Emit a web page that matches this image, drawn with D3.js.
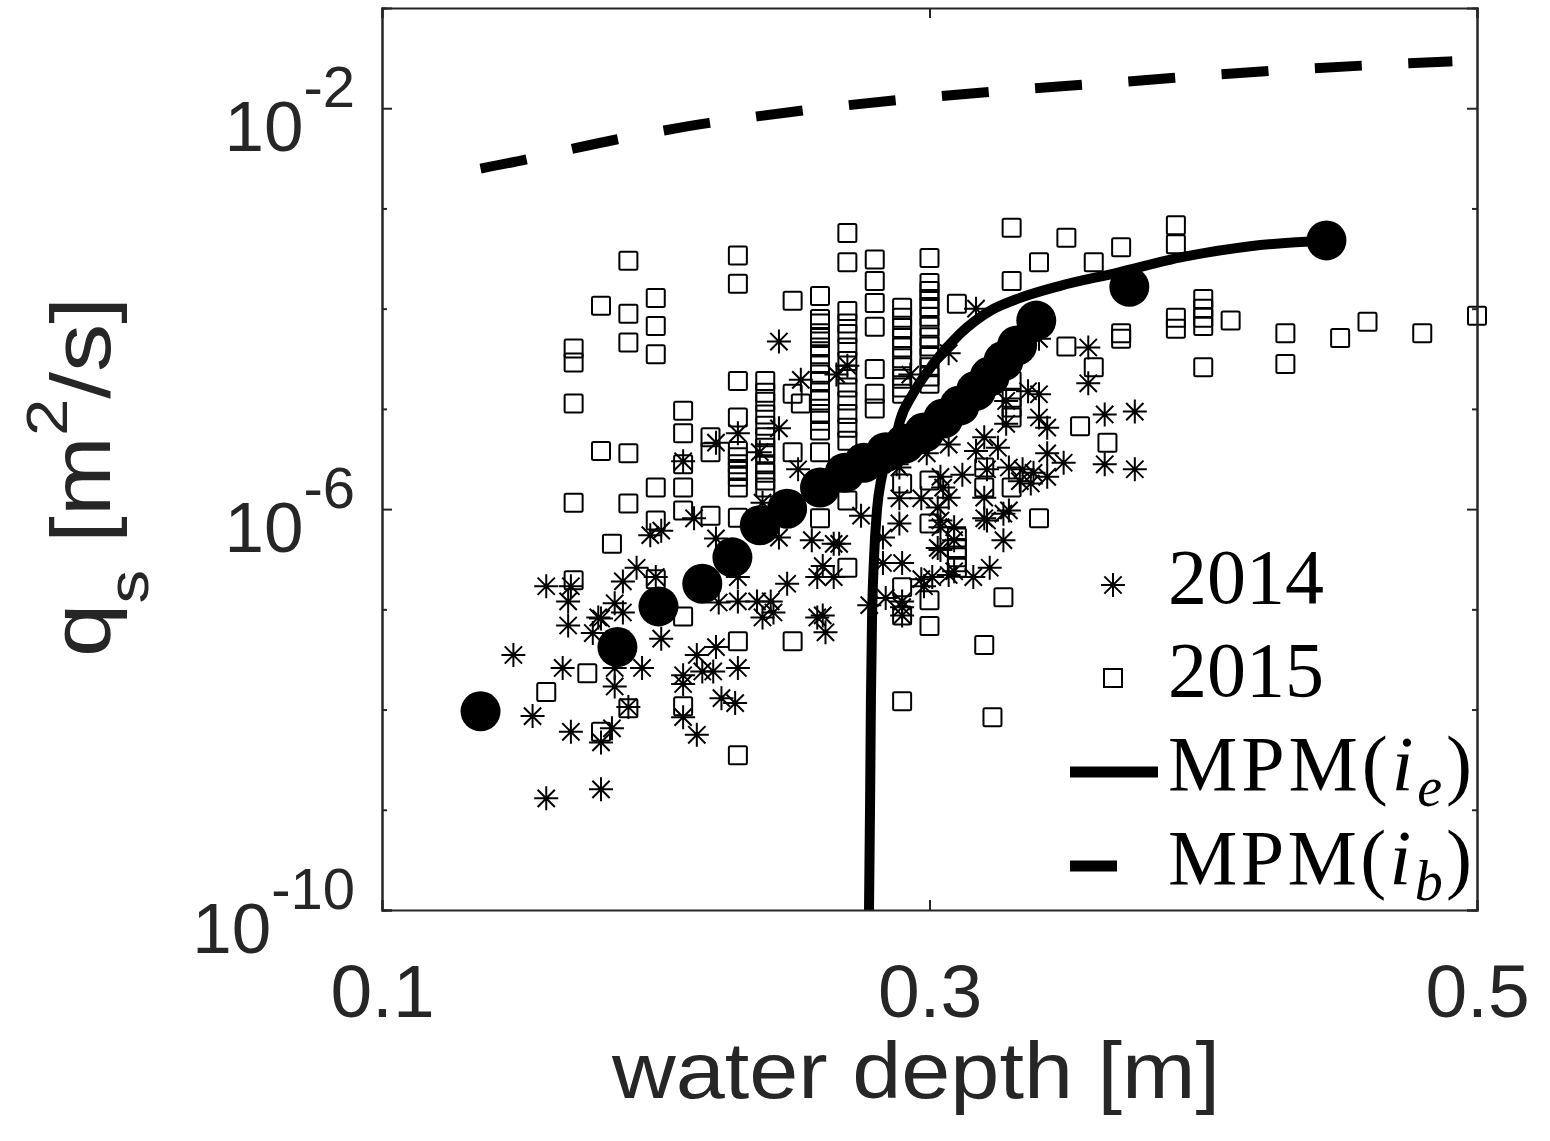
<!DOCTYPE html>
<html>
<head>
<meta charset="utf-8">
<script src="https://cdn.jsdelivr.net/npm/d3@7"></script>
<style>
  body { margin: 0; background: #fff; }
</style>
</head>
<body>
<div id="chart"></div>
<script>
// 2015 campaign: one entry per water depth, with all sediment fluxes read at that depth
const depth2015 = [0.16, 0.17, 0.175, 0.18, 0.184, 0.19, 0.20, 0.21, 0.22, 0.23, 0.24, 0.25, 0.253,
  0.26, 0.27, 0.28, 0.29, 0.30, 0.31, 0.32, 0.323, 0.327, 0.33, 0.34, 0.35, 0.355, 0.36, 0.365,
  0.37, 0.39, 0.40, 0.41, 0.43, 0.45, 0.46, 0.48, 0.50];
const qs2015 = [
  [1.5e-8],
  [4.0e-5, 2.9e-5, 1.13e-5, 1.16e-6, 1.95e-7],
  [2.3e-8],
  [1.07e-4, 3.8e-6, 6.0e-9],
  [4.5e-7],
  [3.0e-4, 8.9e-5, 4.6e-5, 3.6e-6, 1.14e-6, 1.03e-8],
  [1.28e-4, 6.7e-5, 3.5e-5, 1.64e-6, 7.7e-7, 2.0e-7],
  [9.6e-6, 5.7e-6, 2.8e-6, 1.64e-6, 9.7e-7, 8.5e-8, 1.08e-8],
  [5.2e-6, 3.7e-6, 8.6e-7],
  [3.4e-4, 1.77e-4, 1.9e-5, 8.2e-6, 3.8e-6, 3.3e-6, 2.8e-6, 2.4e-6, 2.1e-6, 1.64e-6, 8.2e-7, 4.8e-8, 3.5e-9],
  [1.9e-5, 1.45e-5, 1.18e-5, 8.8e-6, 6.8e-6, 5.2e-6, 4.1e-6, 3.6e-6, 2.8e-6, 2.3e-6, 1.93e-6, 1.64e-6],
  [1.2e-4, 1.42e-5, 3.7e-6, 4.8e-8],
  [1.13e-5],
  [1.34e-4, 7.9e-5, 7.1e-5, 5.7e-5, 5.1e-5, 4.1e-5, 3.5e-5, 2.8e-5, 2.2e-5, 1.9e-5, 1.52e-5, 1.21e-5, 8.9e-6, 7.6e-6, 6.1e-6, 3.7e-6, 8.1e-7],
  [5.7e-4, 2.9e-4, 9.5e-5, 7.1e-5, 5.6e-5, 4.1e-5, 3.0e-5, 2.2e-5, 1.63e-5, 1.21e-5, 8.9e-6, 6.5e-6, 4.8e-6, 1.22e-6, 2.6e-7],
  [3.1e-4, 1.89e-4, 1.14e-4, 6.6e-5, 2.5e-5, 1.42e-5, 1.01e-5],
  [1.02e-4, 8.1e-5, 6.4e-5, 5.1e-5, 4.1e-5, 3.2e-5, 2.6e-5, 2.0e-5, 1.63e-5, 1.42e-5, 1.8e-6, 1.66e-7, 8.7e-8, 1.21e-8],
  [3.2e-4, 1.8e-4, 1.5e-4, 1.25e-4, 1.04e-4, 8.3e-5, 6.6e-5, 5.2e-5, 4.2e-5, 3.3e-5, 2.6e-5, 2.1e-5, 1.78e-5, 1.93e-6, 7.2e-7, 1.23e-7, 6.8e-8],
  [1.12e-4, 5.2e-7, 4.1e-7, 3.3e-7, 2.6e-7],
  [2.6e-6, 1.64e-6, 4.4e-8],
  [8.4e-9],
  [1.32e-7],
  [6.4e-4, 1.89e-4, 1.9e-5, 1.29e-5, 1.03e-5, 8.2e-6, 1.64e-6],
  [2.9e-4, 8.1e-7],
  [5.1e-4, 4.2e-5],
  [6.7e-6],
  [2.9e-4, 2.6e-5],
  [4.6e-6],
  [4.1e-4, 5.7e-5, 5.0e-5],
  [6.8e-4, 4.4e-4, 8.1e-5, 6.3e-5],
  [1.25e-4, 1.0e-4, 8.1e-5, 6.7e-5, 2.6e-5],
  [7.6e-5],
  [5.7e-5, 2.8e-5],
  [5.1e-5],
  [7.4e-5],
  [5.7e-5],
  [8.5e-5]
];

// 2014 campaign
const depth2014 = [0.148, 0.155, 0.160, 0.160, 0.169, 0.168, 0.168, 0.166, 0.169, 0.180,
  0.180, 0.184, 0.180, 0.177, 0.188, 0.193, 0.200, 0.185, 0.188, 0.202,
  0.195, 0.185, 0.185, 0.190, 0.210, 0.210, 0.210, 0.215, 0.215, 0.222,
  0.217, 0.221, 0.230, 0.224, 0.229, 0.223, 0.230, 0.237, 0.239, 0.243,
  0.248, 0.259, 0.230, 0.259, 0.179, 0.242, 0.261, 0.262, 0.222, 0.230,
  0.238, 0.245, 0.210, 0.252, 0.214, 0.198, 0.202, 0.222, 0.239, 0.245,
  0.257, 0.265, 0.261, 0.265, 0.245, 0.253, 0.270, 0.266, 0.293, 0.307,
  0.317, 0.340, 0.358, 0.358, 0.336, 0.340, 0.340, 0.343, 0.343, 0.349,
  0.364, 0.375, 0.364, 0.375, 0.299, 0.289, 0.275, 0.329, 0.327, 0.333,
  0.338, 0.328, 0.328, 0.320, 0.325, 0.317, 0.307, 0.329, 0.334, 0.337,
  0.343, 0.321, 0.312, 0.304, 0.289, 0.305, 0.307, 0.320, 0.297, 0.289,
  0.303, 0.304, 0.309, 0.321, 0.327, 0.309, 0.303, 0.283, 0.290, 0.322,
  0.316, 0.309, 0.301, 0.297, 0.298, 0.284, 0.290, 0.288, 0.283, 0.267,
  0.278, 0.290, 0.290, 0.307, 0.320, 0.304, 0.304];
const qs2014 = [3.5e-8, 8.6e-9, 1.7e-7, 1.3e-9, 1.7e-7, 1.2e-7, 6.9e-8, 2.6e-8, 6.0e-9, 4.7e-9,
  1.6e-9, 6.5e-9, 8.1e-8, 5.8e-8, 1.9e-7, 2.6e-7, 2.1e-7, 1.15e-7, 9.3e-8, 5.1e-8,
  2.6e-8, 2.6e-8, 1.7e-8, 1.06e-8, 2.2e-8, 1.8e-8, 8.4e-9, 5.6e-9, 3.5e-8, 4.2e-8,
  2.4e-8, 2.4e-8, 2.6e-8, 1.3e-8, 1.16e-8, 1.17e-7, 1.2e-7, 1.2e-7, 8.3e-8, 9.3e-8,
  1.8e-7, 2.1e-7, 2.1e-7, 8.3e-8, 8.3e-8, 1.2e-7, 8.7e-8, 5.9e-8, 4.6e-6, 5.7e-6,
  3.7e-6, 6.4e-6, 3.0e-6, 2.5e-6, 8.1e-7, 5.5e-7, 6.1e-7, 5.1e-7, 1.16e-6, 5.2e-7,
  4.9e-7, 4.5e-7, 2.7e-7, 2.1e-7, 4.7e-5, 1.95e-5, 2.7e-5, 2.2e-5, 2.2e-5, 3.6e-5,
  1.0e-4, 5.0e-5, 4.1e-5, 1.8e-5, 1.5e-5, 1.4e-5, 8.2e-6, 6.5e-6, 3.6e-6, 2.9e-6,
  8.8e-6, 9.4e-6, 2.8e-6, 2.5e-6, 3.6e-6, 1.28e-6, 8.6e-7, 9.7e-7, 4.9e-7, 1.9e-6,
  2.3e-6, 1.2e-5, 7.1e-6, 5.2e-6, 4.1e-6, 3.8e-6, 4.4e-6, 2.6e-6, 2.5e-6, 1.8e-6,
  2.1e-6, 2.5e-6, 2.2e-6, 2.1e-6, 2.6e-6, 1.64e-6, 1.3e-6, 1.3e-6, 1.28e-6, 7.2e-7,
  1.04e-6, 7.7e-7, 6.6e-7, 7.7e-7, 9.0e-7, 4.9e-7, 4.1e-7, 2.9e-7, 2.9e-7, 2.6e-7,
  2.1e-7, 2.4e-7, 2.1e-7, 2.0e-7, 1.7e-7, 1.3e-7, 1.2e-7, 2.8e-6, 5.2e-7, 4.5e-7,
  1.1e-7, 1.05e-7, 8.7e-8, 2.2e-7, 8.1e-7, 6.6e-7, 3.9e-7];

// depth-binned mean flux (filled circles)
const binDepth = [0.136, 0.186, 0.201, 0.217, 0.228, 0.238, 0.248, 0.260, 0.269, 0.276, 0.284,
  0.291, 0.298, 0.305, 0.311, 0.317, 0.322, 0.327, 0.332, 0.339, 0.373, 0.445];
const binQs = [9.6e-9, 4.2e-8, 1.07e-7, 1.8e-7, 3.3e-7, 6.9e-7, 1.01e-6, 1.64e-6, 2.3e-6, 2.9e-6, 3.7e-6,
  4.5e-6, 5.8e-6, 8.0e-6, 1.08e-5, 1.52e-5, 2.1e-5, 3.0e-5, 4.3e-5, 7.6e-5, 1.65e-4, 4.8e-4];

// MPM with energy slope (solid) and bed slope (dashed)
const mpmEDepth = [0.2779, 0.2783, 0.2786, 0.2790, 0.2797, 0.2808, 0.2823, 0.2845, 0.2874, 0.2892,
  0.2940, 0.3013, 0.3111, 0.3221, 0.3331, 0.3477, 0.3685, 0.3926, 0.4171, 0.4452];
const mpmEQs = [1e-10, 1.25e-9, 1.24e-8, 7.8e-8, 3.1e-7, 9.7e-7, 1.93e-6, 3.05e-6, 4.8e-6, 7.6e-6,
  1.42e-5, 2.8e-5, 5.6e-5, 9.5e-5, 1.28e-4, 1.69e-4, 2.28e-4, 3.28e-4, 4.2e-4, 4.8e-4];
const mpmBDepth = [0.136, 0.153, 0.169, 0.186, 0.203, 0.219, 0.237, 0.270, 0.304, 0.338, 0.372,
  0.406, 0.440, 0.474, 0.491];
const mpmBQs = [2.5e-3, 3.1e-3, 3.9e-3, 4.9e-3, 6.0e-3, 7.1e-3, 8.3e-3, 1.07e-2, 1.32e-2, 1.58e-2,
  1.84e-2, 2.18e-2, 2.5e-2, 2.8e-2, 2.94e-2];

const xTicks = [0.1, 0.3, 0.5];
const yMajorTicks = [1e-10, 1e-6, 1e-2];
const yMinorTicks = [1e-9, 1e-8, 1e-7, 1e-5, 1e-4, 1e-3];
const legendLabels = ["2014", "2015", "MPM", "MPM"];
const legendSubs = [null, null, "e", "b"];

const width = 1550, height = 1141;
const margin = { top: 8, right: 73, bottom: 231, left: 382 };
const axisColor = "#262626";

const svg = d3.select("#chart").append("svg")
  .attr("width", width)
  .attr("height", height);

const x = d3.scaleLinear()
  .domain([0.1, 0.5])
  .range([margin.left, width - margin.right]);

const y = d3.scaleLog()
  .domain([1e-10, 1e-1])
  .range([height - margin.bottom, margin.top]);

svg.append("clipPath").attr("id", "plot-clip")
  .append("rect")
  .attr("x", margin.left).attr("y", margin.top)
  .attr("width", x(0.5) - x(0.1)).attr("height", y(1e-10) - y(1e-1));

const lines = svg.append("g").attr("clip-path", "url(#plot-clip)");
const marks = svg.append("g");

// MATLAB-style '*' marker: plus plus a shorter x
function starPath(r) {
  const d = r * 0.72;
  return `M${-r},0H${r}M0,${-r}V${r}M${-d},${-d}L${d},${d}M${-d},${d}L${d},${-d}`;
}

const points2014 = depth2014.map((h, i) => ({ h, q: qs2014[i] }));
const points2015 = depth2015.flatMap((h, i) => qs2015[i].map(q => ({ h, q })));

marks.selectAll("path.star")
  .data(points2014)
  .enter().append("path")
  .attr("class", "star")
  .attr("d", starPath(12))
  .attr("transform", d => `translate(${x(d.h)},${y(d.q)})`)
  .attr("fill", "none")
  .attr("stroke", "#000")
  .attr("stroke-width", 2);

marks.selectAll("rect.sq")
  .data(points2015)
  .enter().append("rect")
  .attr("class", "sq")
  .attr("x", d => x(d.h) - 9)
  .attr("y", d => y(d.q) - 9)
  .attr("width", 18).attr("height", 18)
  .attr("rx", 1.5)
  .attr("fill", "none")
  .attr("stroke", "#000")
  .attr("stroke-width", 2);

const line = d3.line().x(d => x(d[0])).y(d => y(d[1])).curve(d3.curveMonotoneX);

lines.append("path")
  .datum(mpmEDepth.map((h, i) => [h, mpmEQs[i]]))
  .attr("d", line)
  .attr("fill", "none")
  .attr("stroke", "#000")
  .attr("stroke-width", 10);

marks.selectAll("circle.bin")
  .data(binDepth.map((h, i) => [h, binQs[i]]))
  .enter().append("circle")
  .attr("class", "bin")
  .attr("cx", d => x(d[0]))
  .attr("cy", d => y(d[1]))
  .attr("r", 20)
  .attr("fill", "#000");

lines.append("path")
  .datum(mpmBDepth.map((h, i) => [h, mpmBQs[i]]))
  .attr("d", line)
  .attr("fill", "none")
  .attr("stroke", "#000")
  .attr("stroke-width", 10)
  .attr("stroke-dasharray", "47,46.5");

// axes box
const tickFont = "'Liberation Sans', Arial, sans-serif";

const xAxis = svg.append("g")
  .attr("transform", `translate(0,${height - margin.bottom})`)
  .call(d3.axisBottom(x).tickValues(xTicks).tickSize(-10).tickFormat(d3.format(".1f")));
xAxis.selectAll("text")
  .attr("font-family", tickFont).attr("font-size", 75).attr("fill", axisColor)
  .attr("y", 107).attr("dy", 0);

svg.append("g")
  .attr("transform", `translate(0,${margin.top})`)
  .call(d3.axisTop(x).tickValues(xTicks).tickSize(-10).tickFormat(""));

// "10" with a raised exponent, like MATLAB's log tick labels
function logLabel(sel) {
  sel.each(function (d) {
    const t = d3.select(this).text(null);
    t.append("tspan").text("10");
    t.append("tspan").attr("dy", -44).attr("font-size", 58)
      .text("-" + Math.abs(Math.round(Math.log10(d))));
  });
}

const yAxis = svg.append("g")
  .attr("transform", `translate(${margin.left},0)`)
  .call(d3.axisLeft(y).tickValues(yMajorTicks).tickSize(-10).tickPadding(27).tickFormat(""));
yAxis.selectAll("text")
  .attr("font-family", tickFont).attr("font-size", 71).attr("fill", axisColor)
  .attr("y", 42).attr("dy", 0)
  .call(logLabel);

svg.append("g")
  .attr("transform", `translate(${margin.left},0)`)
  .call(d3.axisLeft(y).tickValues(yMinorTicks).tickSize(-5).tickFormat(""));

svg.append("g")
  .attr("transform", `translate(${width - margin.right},0)`)
  .call(d3.axisRight(y).tickValues(yMajorTicks).tickSize(-10).tickFormat(""));
svg.append("g")
  .attr("transform", `translate(${width - margin.right},0)`)
  .call(d3.axisRight(y).tickValues(yMinorTicks).tickSize(-5).tickFormat(""));

svg.selectAll(".domain").attr("stroke", axisColor).attr("stroke-width", 2);
svg.selectAll(".tick line").attr("stroke", axisColor).attr("stroke-width", 2);

// axis labels
svg.append("text")
  .attr("x", 612)
  .attr("y", 1098)
  .attr("textLength", 608)
  .attr("lengthAdjust", "spacingAndGlyphs")
  .attr("font-family", tickFont).attr("font-size", 80).attr("fill", axisColor)
  .text("water depth [m]");

const yLabel = svg.append("text")
  .attr("transform", "translate(110,657) rotate(-90)")
  .attr("textLength", 360)
  .attr("lengthAdjust", "spacingAndGlyphs")
  .attr("font-family", tickFont).attr("font-size", 83).attr("fill", axisColor);
yLabel.append("tspan").text("q");
yLabel.append("tspan").attr("font-size", 58).attr("dy", 38).text("s");
yLabel.append("tspan").attr("dy", -38).text(" [m");
yLabel.append("tspan").attr("font-size", 58).attr("dy", -43).text("2");
yLabel.append("tspan").attr("dy", 43).text("/s]");

// legend
const legend = svg.append("g");
const legendY = [585, 678, 772, 866];
const legendFont = "'Liberation Serif', 'Times New Roman', serif";

legend.append("path")
  .attr("d", starPath(12))
  .attr("transform", `translate(1113,${legendY[0]})`)
  .attr("fill", "none").attr("stroke", "#000").attr("stroke-width", 2);
legend.append("rect")
  .attr("x", 1104).attr("y", legendY[1] - 9).attr("width", 18).attr("height", 18)
  .attr("fill", "none").attr("stroke", "#000").attr("stroke-width", 2);
legend.append("line")
  .attr("x1", 1070).attr("x2", 1158).attr("y1", legendY[2]).attr("y2", legendY[2])
  .attr("stroke", "#000").attr("stroke-width", 11);
legend.append("line")
  .attr("x1", 1070).attr("x2", 1158).attr("y1", legendY[3]).attr("y2", legendY[3])
  .attr("stroke", "#000").attr("stroke-width", 11).attr("stroke-dasharray", "47,45");

legendLabels.forEach((label, i) => {
  const t = legend.append("text")
    .attr("x", 1168).attr("y", legendY[i] + 18)
    .attr("font-family", legendFont).attr("font-size", 78).attr("fill", "#000");
  t.append("tspan").text(label);
  if (legendSubs[i]) {
    t.attr("textLength", 304).attr("lengthAdjust", "spacing");
    t.append("tspan").text("(");
    t.append("tspan").attr("font-style", "italic").text("i");
    t.append("tspan").attr("font-style", "italic").attr("font-size", 56).attr("dy", 16).text(legendSubs[i]);
    t.append("tspan").attr("dy", -16).text(")");
  }
});
</script>
</body>
</html>
